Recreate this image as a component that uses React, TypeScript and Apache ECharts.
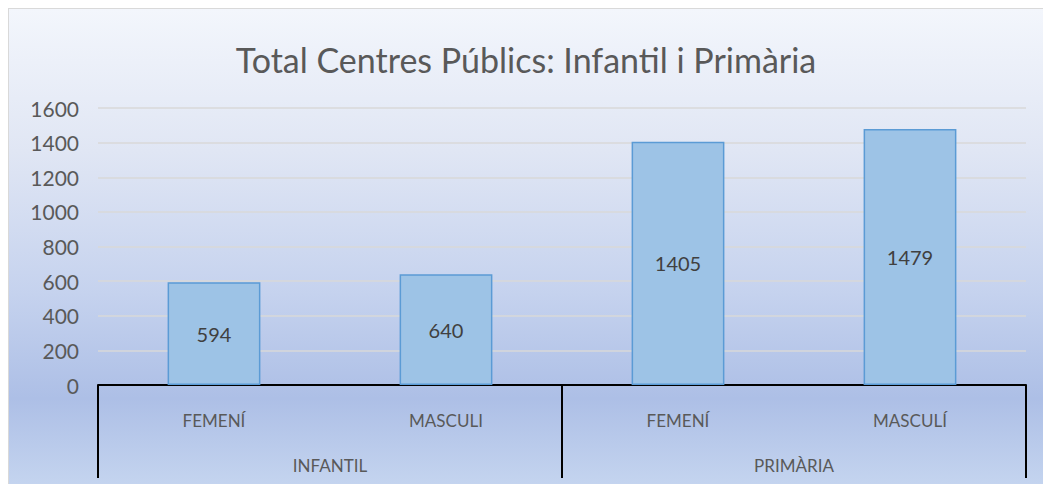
import React, { useEffect, useRef } from "react";
import * as echarts from "echarts";

const titleText = "Total Centres Públics: Infantil i Primària";
const categories = ["FEMENÍ", "MASCULI", "FEMENÍ", "MASCULÍ"];
const groups = ["INFANTIL", "PRIMÀRIA"];
const values = [594, 640, 1405, 1479];
const yMin = 0;
const yMax = 1600;
const yStep = 200;

const FONT = "Lato, 'Liberation Sans', sans-serif";

export default function App() {
  const ref = useRef<HTMLDivElement>(null);
  useEffect(() => {
    if (!ref.current) return;
    const chart = echarts.init(ref.current, undefined, { renderer: "svg" });
    chart.setOption({
      animation: false,
      backgroundColor: {
        type: "linear",
        x: 0,
        y: 0,
        x2: 0,
        y2: 1,
        colorStops: [
          { offset: 0, color: "#f3f6fc" },
          { offset: 0.3, color: "#e0e6f4" },
          { offset: 0.6, color: "#c5d2ee" },
          { offset: 0.82, color: "#adbfe6" },
          { offset: 1, color: "#c4d4ef" },
        ],
      },
      title: {
        text: titleText,
        left: "center",
        top: 28,
        textStyle: { fontFamily: FONT, fontSize: 34, fontWeight: "normal", color: "#595959" },
      },
      grid: { left: 89, right: 17, top: 99, bottom: 99, containLabel: false },
      xAxis: [
        {
          type: "category",
          data: categories,
          axisLine: { show: true, lineStyle: { color: "#000000", width: 2 } },
          axisTick: { show: false },
          axisLabel: { margin: 27, fontFamily: FONT, fontSize: 17, color: "#595959" },
          splitLine: { show: false },
        },
        {
          type: "category",
          data: groups,
          position: "bottom",
          axisLine: { show: false },
          axisTick: { show: true, length: 93, lineStyle: { color: "#000000", width: 2 } },
          axisLabel: { margin: 72, fontFamily: FONT, fontSize: 17, color: "#595959" },
          splitLine: { show: false },
        },
      ],
      yAxis: {
        type: "value",
        min: yMin,
        max: yMax,
        interval: yStep,
        axisLine: { show: false },
        axisTick: { show: false },
        axisLabel: {
          margin: 19,
          fontFamily: FONT,
          fontSize: 21,
          color: "#595959",
          formatter: (v: number) => String(v),
        },
        splitLine: { lineStyle: { color: "#d9d9d9", width: 1.5 } },
      },
      series: [
        {
          type: "bar",
          xAxisIndex: 0,
          data: values,
          barWidth: "40%",
          itemStyle: { color: "#9dc3e6", borderColor: "#5b9bd5", borderWidth: 1.5 },
          label: {
            show: true,
            position: "inside",
            fontFamily: FONT,
            fontSize: 20,
            color: "#404040",
          },
        },
      ],
    });
    return () => chart.dispose();
  }, []);
  return (
    <div
      ref={ref}
      style={{
        position: "absolute",
        left: 8,
        top: 8,
        width: 1035,
        height: 476,
        boxSizing: "border-box",
        borderTop: "1px solid #d9d9d9",
        borderLeft: "1px solid #d9d9d9",
      }}
    />
  );
}
